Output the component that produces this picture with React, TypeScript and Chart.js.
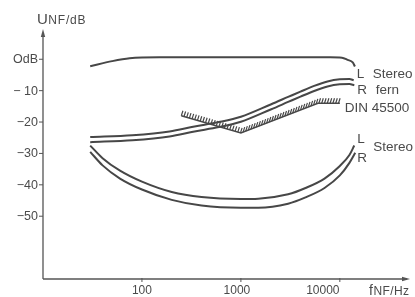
import { useEffect, useRef } from 'react';
import { Chart, registerables } from 'chart.js';

Chart.register(...registerables);

// ---- data (frequency in Hz, level in dB) ----
const TOP_F = [30, 50, 75, 150, 1000, 8000, 10500, 12000, 13500, 14200];
const TOP_DB = [-2.2, -0.6, 0.3, 0.6, 0.6, 0.6, 0.5, -0.2, -1.0, -2.3];

const FERN_L_F = [30, 80, 190, 340, 600, 1000, 2000, 3000, 4000, 5500, 7500, 10000, 12500, 13800];
const FERN_L_DB = [-24.8, -24.2, -23.0, -21.4, -20.0, -18.3, -14.4, -12.0, -10.3, -8.5, -7.1, -6.4, -6.3, -6.7];
const FERN_R_F = [30, 80, 190, 340, 600, 1000, 2000, 3000, 4000, 5500, 7500, 10000, 12500, 14000];
const FERN_R_DB = [-26.4, -25.8, -24.6, -23.0, -21.6, -19.9, -16.0, -13.6, -11.9, -10.1, -8.7, -8.0, -7.9, -8.3];

const DIN_F = [250, 1000, 6000, 10000];
const DIN_DB = [-18, -23.5, -14, -14];

const ST_L_F = [30, 40, 60, 100, 200, 400, 1000, 1500, 3000, 4500, 7000, 10000, 12500, 14000];
const ST_L_DB = [-27.5, -31.5, -35.5, -39, -42.3, -43.9, -44.5, -44.4, -43, -41, -38, -34, -30.5, -27.5];
const ST_R_F = [30, 40, 60, 100, 200, 400, 1000, 1500, 3000, 4500, 7000, 10000, 12500, 14300];
const ST_R_DB = [-29.5, -33.8, -38, -41.5, -44.8, -46.6, -47.3, -47.3, -46, -44, -41, -37, -33, -29.8];

const Y_TICKS = [0, -10, -20, -30, -40, -50];
const Y_TICK_LABELS = ['OdB', '\u2212 10', '\u221220', '\u221230', '\u221240', '\u221250'];
const X_TICKS = [100, 1000, 10000];
const X_TICK_LABELS = ['100', '1000', '10000'];

// ---- style ----
const LINE_COLOR = '#474747';
const TEXT_COLOR = '#4a4a4a';
const FONT = '"Liberation Sans", Arial, Helvetica, sans-serif';
const X_LABEL_SHIFT = [0, -4, -17];
const DIN_INDEX = 3;

const toPts = (f: number[], v: number[]) => f.map((x, i) => ({ x, y: v[i] }));

const lineDs = (label: string, f: number[], v: number[], extra: any = {}) => ({
  label,
  data: toPts(f, v),
  borderColor: LINE_COLOR,
  borderWidth: 2,
  pointRadius: 0,
  fill: false,
  cubicInterpolationMode: 'monotone',
  clip: false,
  ...extra,
});

const bgPlugin = {
  id: 'bg',
  beforeDraw(chart: any) {
    const { ctx, width, height } = chart;
    ctx.save();
    ctx.fillStyle = '#ffffff';
    ctx.fillRect(0, 0, width, height);
    ctx.restore();
  },
};

const hatchPlugin = {
  id: 'hatch',
  afterDatasetsDraw(chart: any) {
    const meta = chart.getDatasetMeta(DIN_INDEX);
    const pts = meta.data.map((p: any) => ({ x: p.x, y: p.y }));
    const ctx = chart.ctx;
    ctx.save();
    ctx.strokeStyle = LINE_COLOR;
    ctx.lineWidth = 1.2;
    ctx.beginPath();
    let carry = 0;
    for (let i = 0; i < pts.length - 1; i++) {
      const a = pts[i];
      const b = pts[i + 1];
      const len = Math.hypot(b.x - a.x, b.y - a.y);
      const ux = (b.x - a.x) / len;
      const uy = (b.y - a.y) / len;
      let d = carry;
      for (; d <= len; d += 2.8) {
        const px = a.x + ux * d;
        const py = a.y + uy * d;
        ctx.moveTo(px, py);
        ctx.lineTo(px + 1.6, py - 5);
      }
      carry = d - len;
    }
    ctx.stroke();
    ctx.restore();
  },
};

const axesPlugin = {
  id: 'axes',
  afterDatasetsDraw(chart: any) {
    const { ctx, chartArea } = chart;
    const xs = chart.scales.x;
    const ys = chart.scales.y;
    const left = chartArea.left;
    const bottom = chartArea.bottom;
    const right = chartArea.right;
    const top = chartArea.top;
    ctx.save();
    ctx.strokeStyle = '#555';
    ctx.fillStyle = '#555';
    ctx.lineWidth = 1.3;
    ctx.beginPath();
    ctx.moveTo(left, bottom);
    ctx.lineTo(left, top + 2);
    ctx.moveTo(left, bottom);
    ctx.lineTo(right - 2, bottom);
    ctx.stroke();
    // arrows
    ctx.beginPath();
    ctx.moveTo(left, top - 2);
    ctx.lineTo(left - 2.2, top + 6);
    ctx.lineTo(left + 2.2, top + 6);
    ctx.closePath();
    ctx.fill();
    ctx.beginPath();
    ctx.moveTo(right + 1, bottom);
    ctx.lineTo(right - 7, bottom - 2.2);
    ctx.lineTo(right - 7, bottom + 2.2);
    ctx.closePath();
    ctx.fill();

    // y ticks
    ctx.lineWidth = 1;
    ctx.fillStyle = TEXT_COLOR;
    ctx.font = `12.5px ${FONT}`;
    ctx.textAlign = 'right';
    ctx.textBaseline = 'middle';
    Y_TICKS.forEach((v, i) => {
      const py = ys.getPixelForValue(v);
      ctx.beginPath();
      ctx.moveTo(left - 4, py);
      ctx.lineTo(left, py);
      ctx.stroke();
      ctx.fillText(Y_TICK_LABELS[i], left - 5, py + 0.5);
    });
    // x ticks
    ctx.textAlign = 'center';
    ctx.font = `12px ${FONT}`;
    X_TICKS.forEach((v, i) => {
      const px = xs.getPixelForValue(v);
      ctx.beginPath();
      ctx.moveTo(px, bottom - 1);
      ctx.lineTo(px, bottom + 3);
      ctx.stroke();
      ctx.fillText(X_TICK_LABELS[i], px + X_LABEL_SHIFT[i], bottom + 12);
    });

    // axis titles
    ctx.textAlign = 'left';
    ctx.textBaseline = 'alphabetic';
    ctx.font = `15px ${FONT}`;
    ctx.fillText('U', 37, 24);
    const uw = ctx.measureText('U').width;
    ctx.font = `12px ${FONT}`;
    (ctx as any).letterSpacing = '0.8px';
    ctx.fillText('NF/dB', 37 + uw + 0.5, 24);
    ctx.font = `14px ${FONT}`;
    (ctx as any).letterSpacing = '0px';
    ctx.fillText('f', 369, 295);
    const fw = ctx.measureText('f').width;
    ctx.font = `12px ${FONT}`;
    (ctx as any).letterSpacing = '0.4px';
    ctx.fillText('NF/Hz', 369 + fw + 0.5, 295);
    (ctx as any).letterSpacing = '0px';
    ctx.restore();
  },
};

const labelsPlugin = {
  id: 'seriesLabels',
  afterDatasetsDraw(chart: any) {
    const ctx = chart.ctx;
    const last = (i: number) => {
      const d = chart.getDatasetMeta(i).data;
      const p = d[d.length - 1];
      return { x: p.x, y: p.y };
    };
    ctx.save();
    ctx.fillStyle = TEXT_COLOR;
    ctx.textBaseline = 'middle';
    ctx.textAlign = 'left';
    ctx.font = `13.5px ${FONT}`;
    const fl = last(1);
    const fr = last(2);
    ctx.fillText('L', fl.x + 3, fl.y - 6);
    ctx.fillText('R', fr.x + 3, fr.y + 5);
    ctx.fillText('Stereo', fl.x + 19, fl.y - 6);
    ctx.fillText('fern', fl.x + 22, fr.y + 5);
    const din = last(DIN_INDEX);
    ctx.fillText('DIN 45500', din.x + 5, din.y + 5);
    const sl = last(4);
    const sr = last(5);
    ctx.fillText('L', sl.x + 3, sl.y - 6);
    ctx.fillText('R', sr.x + 2, sr.y + 5);
    ctx.fillText('Stereo', sl.x + 19, sl.y + 2);
    ctx.restore();
  },
};

export default function App() {
  const ref = useRef<HTMLCanvasElement>(null);
  useEffect(() => {
    const chart = new Chart(ref.current as HTMLCanvasElement, {
      type: 'line',
      data: {
        datasets: [
          lineDs('Mono', TOP_F, TOP_DB),
          lineDs('L Stereo fern', FERN_L_F, FERN_L_DB),
          lineDs('R Stereo fern', FERN_R_F, FERN_R_DB),
          lineDs('DIN 45500', DIN_F, DIN_DB, { cubicInterpolationMode: 'default', tension: 0, borderWidth: 1.6 }),
          lineDs('L Stereo', ST_L_F, ST_L_DB),
          lineDs('R Stereo', ST_R_F, ST_R_DB),
        ] as any,
      },
      options: {
        responsive: false,
        animation: false,
        layout: { padding: { left: 43, right: 6, top: 31, bottom: 18 } },
        plugins: { legend: { display: false }, tooltip: { enabled: false } },
        scales: {
          x: { type: 'logarithmic', min: 10, max: 50000, display: false },
          y: { type: 'linear', min: -70, max: 9, display: false },
        },
      },
      plugins: [bgPlugin, hatchPlugin, axesPlugin, labelsPlugin],
    });
    return () => chart.destroy();
  }, []);
  return (
    <div style={{ position: 'fixed', left: 0, top: 0, width: 415, height: 297, background: '#fff' }}>
      <canvas ref={ref} width={415} height={297} style={{ display: 'block', width: 415, height: 297 }} />
    </div>
  );
}
